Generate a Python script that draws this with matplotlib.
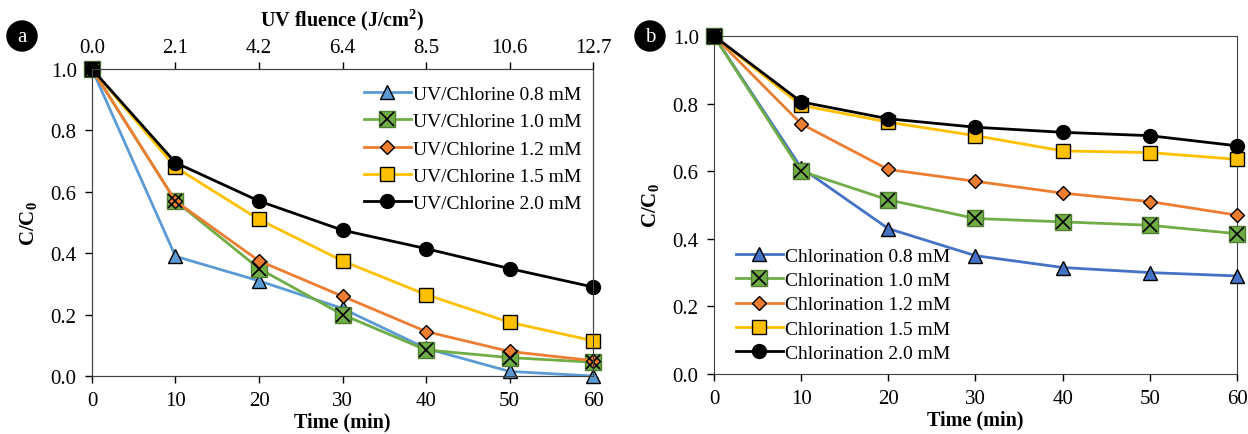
import matplotlib.pyplot as plt
from matplotlib.patches import Circle
from matplotlib.legend_handler import HandlerTuple

plt.rcParams['font.family'] = ['Liberation Serif', 'DejaVu Serif']
plt.rcParams['mathtext.fontset'] = 'custom'
plt.rcParams['mathtext.rm'] = 'Liberation Serif'
plt.rcParams['mathtext.bf'] = 'Liberation Serif:bold'
plt.rcParams['mathtext.default'] = 'bf'

time = [0, 10, 20, 30, 40, 50, 60]
fluence_labels = ['0.0', '2.1', '4.2', '6.4', '8.5', '10.6', '12.7']
doses = ['0.8', '1.0', '1.2', '1.5', '2.0']

uv_08 = [1.0, 0.39, 0.31, 0.22, 0.09, 0.015, 0.0]
uv_10 = [1.0, 0.57, 0.35, 0.20, 0.085, 0.06, 0.045]
uv_12 = [1.0, 0.57, 0.375, 0.26, 0.145, 0.08, 0.05]
uv_15 = [1.0, 0.68, 0.51, 0.375, 0.265, 0.175, 0.115]
uv_20 = [1.0, 0.695, 0.57, 0.475, 0.415, 0.35, 0.29]

cl_08 = [1.0, 0.61, 0.43, 0.35, 0.315, 0.30, 0.29]
cl_10 = [1.0, 0.60, 0.515, 0.46, 0.45, 0.44, 0.415]
cl_12 = [1.0, 0.74, 0.605, 0.57, 0.535, 0.51, 0.47]
cl_15 = [1.0, 0.795, 0.745, 0.705, 0.66, 0.655, 0.635]
cl_20 = [1.0, 0.805, 0.755, 0.73, 0.715, 0.705, 0.675]

# marker, marker size, line colour, face colour
styles = [
    ('^', 10, None, None),
    ('X', 11, '#70AD47', '#70AD47'),
    ('D', 7.5, '#ED7D31', '#ED7D31'),
    ('s', 10, '#FFC000', '#FFC000'),
    ('o', 10, 'black', 'black'),
]


def draw_panel(ax, series, prefix, blue):
    handles, labels = [], []
    for (mk, ms, lc, fc), vals, dose in zip(styles, series, doses):
        lc = lc or blue
        fc = fc or blue
        if mk == 'X':
            # green square with black cross, as in the original
            h1, = ax.plot(time, vals, color=lc, lw=2, marker='s', ms=ms,
                          mfc=fc, mec='#507E32', clip_on=False, zorder=3)
            h2, = ax.plot(time, vals, lw=0, marker='x', ms=ms - 1,
                          mec='black', mew=1.2, clip_on=False, zorder=4)
            handles.append((h1, h2))
        else:
            h, = ax.plot(time, vals, color=lc, lw=2, marker=mk, ms=ms,
                         mfc=fc, mec='black', mew=1, clip_on=False, zorder=3)
            handles.append(h)
        labels.append(f'{prefix} {dose} mM')
    ax.set_xlim(0, 60)
    ax.set_ylim(0, 1.0)
    ax.set_xticks(time)
    ax.set_yticks([0, 0.2, 0.4, 0.6, 0.8, 1.0])
    ax.set_yticklabels(['0.0', '0.2', '0.4', '0.6', '0.8', '1.0'])
    ax.tick_params(direction='out', length=5, labelsize=15, width=1, pad=6)
    ax.set_xlabel('Time (min)', fontsize=14.5, fontweight='bold', labelpad=1)
    ax.set_ylabel(r'$\mathbf{C/C_0}$', fontsize=15, labelpad=8)
    for s in ax.spines.values():
        s.set_color('#404040')
    return handles, labels


fig = plt.figure(figsize=(12.48, 4.35), dpi=100)
ax1 = fig.add_axes([0.0737, 0.1333, 0.4015, 0.7057])
ax2 = fig.add_axes([0.5721, 0.138, 0.4191, 0.777])

h_a, l_a = draw_panel(ax1, [uv_08, uv_10, uv_12, uv_15, uv_20],
                      'UV/Chlorine', '#5B9BD5')
h_b, l_b = draw_panel(ax2, [cl_08, cl_10, cl_12, cl_15, cl_20],
                      'Chlorination', '#4472C4')

top = ax1.twiny()
top.set_xlim(0, 60)
top.set_xticks(time)
top.set_xticklabels(fluence_labels)
top.tick_params(direction='out', length=5, labelsize=15, width=1, pad=4)
top.set_xlabel(r'UV fluence (J/cm$^\mathbf{2}$)', fontsize=14.5,
               fontweight='bold', labelpad=9)
for s in top.spines.values():
    s.set_color('#404040')

overlay = {tuple: HandlerTuple(ndivide=1, pad=0)}
ax1.legend(h_a, l_a, loc='upper right', bbox_to_anchor=(1.0, 0.985),
           frameon=False, fontsize=14, handlelength=2.4, handletextpad=0.1,
           labelspacing=0.5, borderaxespad=0.2, handler_map=overlay)
ax2.legend(h_b, l_b, loc='lower left', bbox_to_anchor=(0.02, 0.0),
           frameon=False, fontsize=14, handlelength=2.4, handletextpad=0.1,
           labelspacing=0.35, borderaxespad=0.2, handler_map=overlay)

for cx, label in [(22, 'a'), (650, 'b')]:
    x, y = cx / 1248, 1 - 37 / 435
    fig.patches.append(Circle((cx, 435 - 37), 15, transform=None,
                              color='black'))
    fig.text(x, y, label, color='white', fontsize=15, ha='center',
             va='center')

fig.savefig('out.png', dpi=100)
